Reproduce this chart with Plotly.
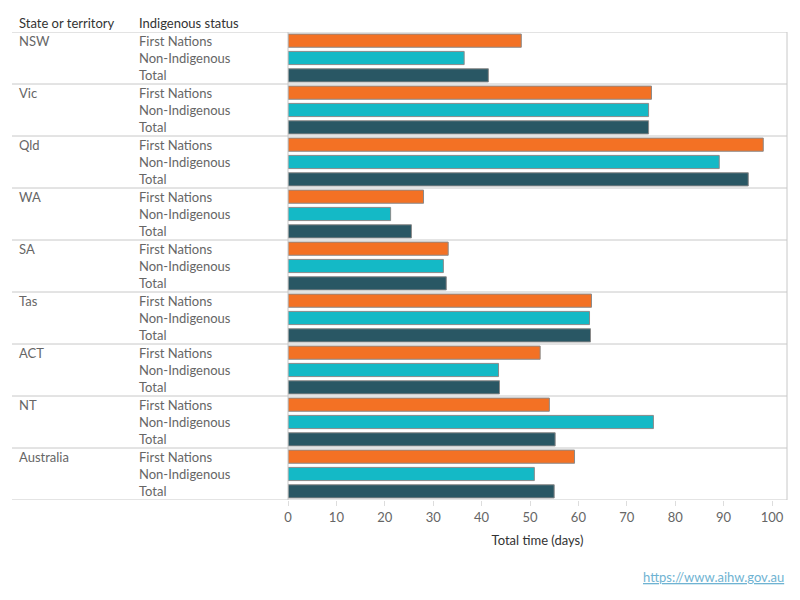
import plotly.graph_objects as go

states = ["NSW", "Vic", "Qld", "WA", "SA", "Tas", "ACT", "NT", "Australia"]
statuses = ["First Nations", "Non-Indigenous", "Total"]
first_nations = [48.2, 75.1, 98.2, 28.0, 33.1, 62.7, 52.1, 54.0, 59.2]
non_indigenous = [36.4, 74.5, 89.1, 21.2, 32.1, 62.3, 43.5, 75.5, 50.9]
total = [41.4, 74.5, 95.1, 25.5, 32.7, 62.5, 43.7, 55.2, 55.0]
tick_values = [0, 10, 20, 30, 40, 50, 60, 70, 80, 90, 100]
colors = ["#F37124", "#14B9C6", "#295764"]

FONT = "Lato"
fig = go.Figure()
series = [first_nations, non_indigenous, total]
for i, (name, vals) in enumerate(zip(statuses, series)):
    ys = [g * 3 + i for g in range(len(states))]
    fig.add_trace(go.Bar(
        x=vals, y=ys, orientation="h", name=name,
        marker=dict(color=colors[i], line=dict(color="#8a8a8a", width=1)),
        width=0.76, showlegend=False,
        hovertemplate="%{x}<extra>" + name + "</extra>",
    ))

L, R, T, B = 288, 13, 32, 100
W, H = 800, 600
pw = W - L - R
ph = H - T - B

def px_to_paper_x(px):
    return (px - L) / pw

def px_to_paper_y(py):
    return (H - B - py) / ph

shapes = []
n = len(states)
for g in range(n + 1):
    yy = g * 3 - 0.5
    shapes.append(dict(type="line", xref="paper", yref="y",
                       x0=px_to_paper_x(12), x1=1, y0=yy, y1=yy,
                       line=dict(color="#c8c8c8", width=1)))
for xx in [0, 1]:
    shapes.append(dict(type="line", xref="paper", yref="y",
                       x0=xx, x1=xx, y0=-0.5, y1=n * 3 - 0.5,
                       line=dict(color="#c8c8c8", width=1)))

annotations = []
annotations.append(dict(text="State or territory", xref="paper", yref="paper",
                        x=px_to_paper_x(17), y=px_to_paper_y(23), xanchor="left", yanchor="middle",
                        showarrow=False, font=dict(family=FONT, size=13, color="#333333")))
annotations.append(dict(text="Indigenous status", xref="paper", yref="paper",
                        x=px_to_paper_x(137), y=px_to_paper_y(23), xanchor="left", yanchor="middle",
                        showarrow=False, font=dict(family=FONT, size=13, color="#333333")))
for g, s in enumerate(states):
    annotations.append(dict(text=s, xref="paper", yref="y", x=px_to_paper_x(17), y=g * 3,
                            xanchor="left", yanchor="middle", showarrow=False,
                            font=dict(family=FONT, size=13, color="#666666")))
    for i, st in enumerate(statuses):
        annotations.append(dict(text=st, xref="paper", yref="y", x=px_to_paper_x(137), y=g * 3 + i,
                                xanchor="left", yanchor="middle", showarrow=False,
                                font=dict(family=FONT, size=13, color="#666666")))
annotations.append(dict(text="<u>https://www.aihw.gov.au</u>", xref="paper", yref="paper",
                        x=px_to_paper_x(786), y=px_to_paper_y(577), xanchor="right", yanchor="middle",
                        showarrow=False, font=dict(family=FONT, size=13, color="#6fb3d2")))

fig.update_layout(
    width=W, height=H,
    margin=dict(l=L, r=R, t=T, b=B, pad=0),
    paper_bgcolor="white", plot_bgcolor="white",
    barmode="overlay",
    shapes=shapes, annotations=annotations,
    font=dict(family=FONT, size=13, color="#666666"),
    xaxis=dict(range=[0, 103.1], tickvals=tick_values, showgrid=False, zeroline=False,
               ticks="outside", ticklen=5, tickcolor="#dddddd", showline=False,
               tickfont=dict(family=FONT, size=13, color="#666666"),
               title=dict(text="Total time (days)", standoff=12,
                          font=dict(family=FONT, size=13, color="#333333"))),
    yaxis=dict(range=[n * 3 - 0.5, -0.5], showticklabels=False, showgrid=False,
               zeroline=False, ticks=""),
)

fig.write_html("out.html")
